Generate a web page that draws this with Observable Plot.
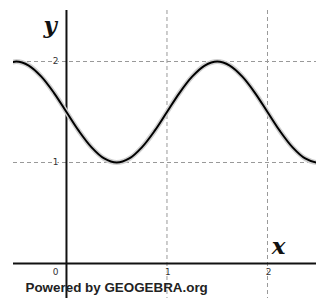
<!DOCTYPE html>
<html>
<head>
<meta charset="utf-8">
<script src="https://cdn.jsdelivr.net/npm/d3@7"></script>
<script src="https://cdn.jsdelivr.net/npm/@observablehq/plot@0.6"></script>
<style>
  html, body { margin: 0; padding: 0; background: #fff; }
  svg { display: block; }
</style>
</head>
<body>
<div id="chart"></div>
<script>
// Curve points
const curveX = [-0.625, -0.5, -0.375, -0.25, -0.125, 0, 0.125, 0.25, 0.375, 0.5, 0.625, 0.75, 0.875, 1, 1.125, 1.25, 1.375, 1.5, 1.625, 1.75, 1.875, 2, 2.125, 2.25, 2.375, 2.5, 2.625];
const curveY = [1.96, 2.0, 1.96, 1.85, 1.69, 1.5, 1.31, 1.15, 1.04, 1.0, 1.04, 1.15, 1.31, 1.5, 1.69, 1.85, 1.96, 2.0, 1.96, 1.85, 1.69, 1.5, 1.31, 1.15, 1.04, 1.0, 1.04];
const xTicks = [1, 2];
const yTicks = [1, 2];
const originLabel = ["0"];
const xName = ["x"];
const yName = ["y"];
const credit = ["Powered by GEOGEBRA.org"];

const curve = curveX.map((x, i) => ({x, y: curveY[i]}));

const chart = Plot.plot({
  width: 316,
  height: 298,
  marginLeft: 13,
  marginTop: 10,
  marginRight: 0,
  marginBottom: 0,
  x: {domain: [-0.527, 2.4876], axis: null},
  y: {domain: [-0.3465, 2.505], axis: null},
  style: {background: "#fff"},
  marks: [
    Plot.ruleX(xTicks, {stroke: "#999", strokeWidth: 1, strokeDasharray: "4,3"}),
    Plot.ruleY(yTicks, {stroke: "#999", strokeWidth: 1, strokeDasharray: "4,3"}),
    Plot.ruleX([0], {stroke: "#111", strokeWidth: 2}),
    Plot.ruleY([0], {stroke: "#111", strokeWidth: 2}),
    Plot.line(curve, {x: "x", y: "y", curve: "catmull-rom", stroke: "#cfcfcf", strokeWidth: 5, clip: true}),
    Plot.line(curve, {x: "x", y: "y", curve: "catmull-rom", stroke: "#000", strokeWidth: 2, clip: true}),
    Plot.text(xTicks, {x: d => d, y: 0, text: d => String(d), dx: 1, dy: 9, fontSize: 9, fill: "#333", fontFamily: "DejaVu Sans, sans-serif", stroke: "#fff", strokeWidth: 2}),
    Plot.text(yTicks, {x: 0, y: d => d, text: d => String(d), dx: -8, textAnchor: "end", fontSize: 9, fill: "#333", fontFamily: "DejaVu Sans, sans-serif", stroke: "#fff", strokeWidth: 2}),
    Plot.text(originLabel, {x: 0, y: 0, text: d => d, dx: -8, dy: 9, textAnchor: "end", fontSize: 9, fill: "#333", fontFamily: "DejaVu Sans, sans-serif"}),
    Plot.text(yName, {frameAnchor: "top-left", dx: 30, dy: 6, text: d => d, fontSize: 23, fontStyle: "italic", fontWeight: "bold", fontFamily: "DejaVu Serif, serif", fill: "#111"}),
    Plot.text(xName, {frameAnchor: "bottom-right", dx: -31, dy: -45, text: d => d, fontSize: 23, fontStyle: "italic", fontWeight: "bold", fontFamily: "DejaVu Serif, serif", fill: "#111"}),
    Plot.text(credit, {frameAnchor: "bottom-left", dx: 12, dy: -7, textAnchor: "start", text: d => d, fontSize: 13.4, fontWeight: "bold", fontFamily: "Liberation Sans, Arial, sans-serif", fill: "#222"})
  ]
});
document.getElementById("chart").appendChild(chart);
</script>
</body>
</html>
